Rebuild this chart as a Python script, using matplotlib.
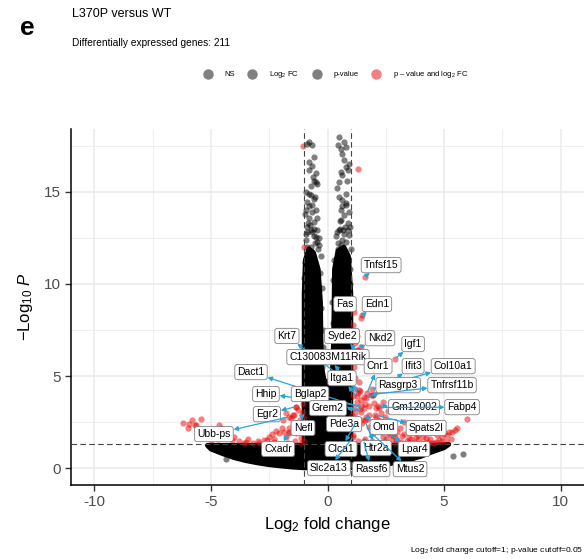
import matplotlib
matplotlib.use("Agg")
import matplotlib.pyplot as plt
from matplotlib.lines import Line2D

plt.rcParams['font.family'] = ['Liberation Sans', 'DejaVu Sans']
plt.rcParams['mathtext.fontset'] = 'custom'
plt.rcParams['mathtext.rm'] = 'Liberation Sans'
plt.rcParams['mathtext.it'] = 'Liberation Sans:italic'
plt.rcParams['axes.unicode_minus'] = False

# --- data (log2 FC, -log10 P) ---

# dense, overplotted body of non-significant genes (outline of the point mass)
mass_x = [-5.15, -4.5, -3.5, -2.5, -1.5, -1.0, -1.0, -0.95, -0.8, -0.6, -0.4, -0.3, -0.28,
          -0.25, -0.15, 0.05, 0.2, 0.25, 0.28, 0.3, 0.45, 0.7, 0.9, 1.0, 1.0, 1.5, 2.5, 3.5,
          4.5, 5.2, 5.0, 4.5, 4.0, 3.5, 3.0, 2.5, 2.0, 1.5, 1.0, 0.5, 0.0, -0.5, -1.0, -1.5,
          -2.0, -2.5, -3.0, -3.5, -4.0, -4.5, -5.0]
mass_y = [1.25, 1.25, 1.25, 1.25, 1.25, 1.25, 9.5, 11.3, 11.9, 11.7, 10.8, 9.0, 7.0,
          5.5, 4.8, 4.6, 5.0, 6.5, 8.5, 10.8, 11.8, 12.0, 11.5, 9.5, 1.25, 1.25, 1.25, 1.25,
          1.25, 1.3, 1.12, 0.9, 0.65, 0.47, 0.33, 0.22, 0.13, 0.07, 0.03, 0.01, 0.0, 0.01,
          0.03, 0.07, 0.13, 0.2, 0.3, 0.42, 0.58, 0.8, 1.05]

# sparse non-significant points (column tops, ragged edges and outliers)
ns_x = [-0.78, -0.67, -0.86, -0.57, -0.78, -0.67, -0.78, -0.5, -0.57, -0.5, -0.43, -0.93,
        -0.78, -0.57, -0.86, -0.67, -0.93, -0.5, -0.43, -0.78, -0.57, -0.86, -0.67, -0.93,
        -0.5, -0.93, -0.7, -0.45, -0.85, -0.6, -0.38, -0.95, -0.72,
        -1.02, -0.98, -1.0, -0.97, -0.22, -0.2, -0.25, -0.3, -0.18,
        -0.9, -0.75, -0.6, -0.45, -0.35, -0.65, -0.8, -0.55, -0.72, -0.62,
        -0.33, -0.28, -0.4, -0.88, -0.96, -0.52, -0.7, -0.82,
        0.5, 0.71, 0.47, 0.81, 0.64, 0.71, 0.93, 0.79, 0.57, 0.64, 0.9, 0.5, 0.64, 0.79,
        0.57, 0.71, 0.93, 0.57, 0.86, 0.5, 0.71, 0.93, 0.64, 0.43, 0.35, 0.97, 0.8, 0.55,
        0.4, 0.68,
        0.2, 0.22, 0.25, 0.18, 1.0, 1.02, 0.98, 1.0,
        0.4, 0.55, 0.75, 0.9, 0.62, 0.8, 0.48, 0.85, 0.6,
        0.3, 0.36, 0.27, 0.95, 0.6, 0.78, 0.45,
        -4.35, -3.87, 5.4, 5.8]
ns_y = [17.7, 17.52, 17.58, 16.9, 16.6, 16.4, 16.17, 16.0, 15.6, 15.5, 15.4, 15.0, 14.9,
        14.6, 14.45, 14.27, 14.0, 14.0, 13.6, 13.55, 13.37, 13.1, 12.8, 12.7, 12.55, 12.4,
        12.9, 12.3, 13.3, 12.6, 12.1, 13.8, 14.8,
        6.5, 8.2, 10.3, 11.2, 5.5, 7.5, 9.8, 11.5, 6.6,
        12.8, 13.2, 13.0, 12.9, 12.5, 13.9, 14.2, 14.7, 15.3, 15.8,
        10.6, 8.7, 11.9, 12.0, 9.1, 12.2, 12.0, 11.6,
        17.97, 17.7, 17.52, 17.43, 17.07, 16.7, 16.5, 16.35, 16.08, 15.9, 16.17, 14.7,
        14.55, 14.27, 14.0, 13.73, 13.9, 13.46, 13.28, 12.9, 12.7, 12.65, 12.4, 12.2,
        12.6, 13.1, 14.4, 13.0, 15.2, 12.9,
        5.8, 7.9, 10.2, 9.0, 6.0, 8.8, 10.8, 11.9,
        12.8, 13.4, 13.1, 12.9, 14.2, 14.9, 15.5, 15.6, 17.3,
        11.3, 9.6, 7.2, 10.0, 12.1, 12.3, 11.9,
        0.5, 1.0, 0.67, 0.77]

# significant (p-value and log2 FC) points without labels
sig_x = [-1.05, 1.3, -1.0, -6.2, -5.93, -5.42, -5.7, -5.28, -5.15, -5.0, -4.85, -4.64, -4.57,
         -4.3, -4.08, -2.93, -2.71, -2.5, -2.28, -2.07, -1.85, -1.78, -1.64, -1.28, -1.35,
         -1.07, -1.14, -1.02, -1.35, -1.5, -1.07, -1.02, -1.43, -1.28, -1.78, -1.57, -1.93,
         -1.64, -5.64, -4.93, -3.5, -3.2, -3.8,
         -1.05, -1.1, -1.2, -1.05, -2.3, -2.6, -3.0, -3.4, -3.6, -4.0, -4.4, -4.7, -5.5,
         -5.8, -6.0, -1.2, -1.5, -1.9, -2.2, -2.4, -1.15, -1.4, -1.7,
         5.57, 5.35, 5.14, 4.92, 4.78, 4.64, 4.5, 6.0, 4.21, 3.78, 3.5, 3.14, 2.78, 2.36,
         2.29, 1.93, 1.79, 1.5, 2.07, 2.0, 2.07, 1.57, 1.43, 1.36, 1.93, 1.36, 1.29, 1.36,
         1.7, 1.45, 1.2, 1.1, 1.3, 1.6, 1.9, 2.2, 2.5, 1.05, 1.15, 1.25, 2.6, 2.9, 3.2,
         3.4, 3.7, 3.9, 4.0, 4.3, 2.4, 2.7, 3.0, 2.2, 1.8, 2.3, 1.1, 1.45, 1.05, 1.2,
         2.5, 2.8, 3.0, 3.3, 3.6, 3.9, 4.1, 4.4, 4.7, 5.0, 5.2, 5.45, 4.85, 4.55, 5.1, 5.3,
         4.2, 3.5, 2.9, 3.1, 2.6, 2.45, 2.0, 1.8, 1.6, 1.2, 1.05, 1.1, 1.1, 1.2, 1.05, 1.15,
         1.05, 1.2, 1.25, 2.4, 2.6, 3.3]
sig_y = [17.5, 16.25, 12.0, 2.45, 2.4, 2.7, 2.35, 1.98, 1.7, 1.53, 1.9, 2.35, 2.18,
         1.7, 1.53, 1.4, 1.53, 1.71, 1.44, 1.9, 1.98, 1.71, 2.18, 2.35, 1.9,
         2.08, 1.63, 1.5, 3.34, 2.89, 3.07, 2.71, 2.89, 3.16, 2.98, 2.71, 2.17,
         1.98, 2.35, 1.98, 1.45, 1.4, 1.5,
         3.5, 4.3, 3.8, 4.0, 1.6, 1.55, 1.5, 1.6, 1.4, 1.7, 1.9, 1.6, 2.0,
         2.6, 2.2, 2.6, 2.4, 2.6, 2.05, 1.85, 1.4, 1.5, 1.4,
         2.17, 1.98, 1.8, 1.71, 1.53, 1.44, 1.35, 2.67, 1.63, 1.71, 1.63, 1.44, 1.53, 1.71,
         1.98, 1.9, 2.26, 2.44, 2.8, 3.52, 3.25, 3.88, 3.7, 4.24, 3.97, 4.69, 6.41, 6.23,
         2.7, 2.6, 2.2, 1.8, 1.5, 1.6, 1.5, 1.4, 1.45, 2.9, 3.3, 3.6, 1.9, 1.7, 1.75,
         1.5, 1.45, 1.55, 1.4, 1.45, 2.2, 2.3, 2.0, 2.6, 2.9, 3.0, 7.8, 8.15, 5.2, 4.9,
         1.6, 1.8, 1.55, 1.85, 1.6, 1.8, 1.7, 1.6, 1.8, 1.9, 2.0, 2.1, 1.45, 1.38, 1.5, 1.6,
         1.35, 1.35, 1.38, 2.2, 2.4, 2.8, 2.45, 3.4, 3.5, 3.0, 2.3, 2.6, 3.9, 4.3, 4.7, 5.5,
         6.1, 6.8, 7.2, 3.6, 3.1, 2.5]

# labelled genes: point position and label position
genes = ['Tnfsf15', 'Fas', 'Edn1', 'Krt7', 'Syde2', 'Nkd2', 'Igf1', 'C130083M11Rik',
         'Cnr1', 'Ifit3', 'Col10a1', 'Dact1', 'Itga1', 'Rasgrp3', 'Tnfrsf11b', 'Hhip',
         'Bglap2', 'Grem2', 'Gm12002', 'Fabp4', 'Egr2', 'Nefl', 'Pde3a', 'Omd', 'Spats2l',
         'Ubb-ps', 'Cxadr', 'Clca1', 'Htr2a', 'Lpar4', 'Slc2a13', 'Rassf6', 'Mtus2']
gene_fc = [1.6, 1.15, 1.5, 1.4, 1.25, 1.45, 2.9, 1.3, 1.7, 1.95, 1.9, 1.55, 1.25, 1.65,
           1.85, 1.45, 1.45, 1.4, 2.15, 2.2, -1.35, -1.1, 1.3, 1.65, 2.05, -1.66, -1.65,
           1.2, 1.6, 2.7, 1.1, 1.55, 1.9]
gene_p = [10.4, 8.5, 8.3, 4.2, 6.4, 6.6, 5.95, 4.1, 4.1, 4.0, 4.3, 3.26, 3.9, 3.8, 4.0,
          3.4, 3.07, 3.2, 3.4, 3.3, 3.35, 2.9, 2.3, 2.8, 2.9, 2.79, 1.9, 2.45, 2.6, 1.8,
          1.7, 1.5, 1.9]
label_x = [2.30, 0.75, 2.12, -1.74, 0.62, 2.25, 3.67, 0.02, 2.17, 3.67, 5.39, -3.28, 0.62,
           3.03, 5.34, -2.64, -0.75, 0.02, 3.71, 5.77, -2.60, -1.05, 0.71, 2.42, 4.23,
           -4.87, -2.12, 0.58, 2.08, 3.71, 0.06, 1.87, 3.54]
label_y = [11.02, 8.91, 8.91, 7.18, 7.18, 7.06, 6.74, 6.03, 5.54, 5.54, 5.54, 5.22, 4.89,
           4.51, 4.51, 4.03, 4.03, 3.27, 3.32, 3.32, 2.94, 2.19, 2.40, 2.24, 2.19, 1.86,
           1.05, 1.05, 1.10, 1.05, 0.02, -0.04, -0.04]

fc_cutoff = 1.0
p_cutoff_log = 1.30103  # -log10(0.05)

# --- figure ---
fig = plt.figure(figsize=(5.84, 5.59), dpi=100)
ax = fig.add_axes([71 / 584, 1 - 485 / 559, 513 / 584, 356 / 559])

ax.fill(mass_x, mass_y, color='black', lw=3.5, joinstyle='round', zorder=2)
ax.scatter(ns_x, ns_y, s=20, color='black', alpha=0.5, lw=0, zorder=3)
ax.scatter(sig_x, sig_y, s=20, color='#EE0000', alpha=0.5, lw=0, zorder=3)
ax.scatter(gene_fc, gene_p, s=20, color='#EE0000', alpha=0.5, lw=0, zorder=3)

ax.axvline(-fc_cutoff, color='#444444', lw=0.8, ls=(0, (5, 3)), zorder=4)
ax.axvline(fc_cutoff, color='#444444', lw=0.8, ls=(0, (5, 3)), zorder=4)
ax.axhline(p_cutoff_log, color='#444444', lw=0.8, ls=(0, (5, 3)), zorder=4)

for g, px, py, lx, ly in zip(genes, gene_fc, gene_p, label_x, label_y):
    ax.annotate(g, xy=(px, py), xytext=(lx, ly), ha='center', va='center',
                fontsize=7.5, color='black', zorder=6,
                bbox=dict(boxstyle='round,pad=0.25,rounding_size=0.25', fc='white',
                          ec='#808080', lw=0.6),
                arrowprops=dict(arrowstyle='<|-,head_length=0.35,head_width=0.18',
                                color='#2aa3d8', lw=0.9, shrinkA=0, shrinkB=1))

ax.set_xlim(-11, 11)
ax.set_ylim(-0.9, 18.4)
ax.set_xticks([-10, -5, 0, 5, 10])
ax.set_yticks([0, 5, 10, 15])
ax.set_xticks([-7.5, -2.5, 2.5, 7.5], minor=True)
ax.set_yticks([2.5, 7.5, 12.5, 17.5], minor=True)
ax.grid(which='major', color='#ebebeb', lw=1.1, zorder=0)
ax.grid(which='minor', color='#ebebeb', lw=0.55, zorder=0)
ax.set_axisbelow(True)
ax.tick_params(which='major', direction='out', length=4, width=1, color='#333333',
               labelsize=11, labelcolor='#4d4d4d')
ax.tick_params(which='minor', length=0)
for side in ['top', 'right']:
    ax.spines[side].set_visible(False)
for side in ['left', 'bottom']:
    ax.spines[side].set_linewidth(1.1)
    ax.spines[side].set_color('black')

ax.set_xlabel('Log$_2$ fold change', fontsize=12, labelpad=4)
ax.set_ylabel('$-$Log$_{10}$ $P$', fontsize=12, labelpad=6)

# titles
fig.text(20 / 584, 1 - 28 / 559, 'e', fontsize=19, fontweight='bold', ha='left', va='center')
fig.text(72 / 584, 1 - 14 / 559, 'L370P versus WT', fontsize=9, ha='left', va='center')
fig.text(72 / 584, 1 - 43 / 559, 'Differentially expressed genes: 211', fontsize=7.3,
         ha='left', va='center')

# legend
leg_labels = ['NS', 'Log$_2$ FC', 'p-value', 'p \u2013 value and log$_2$ FC']
leg_colors = ['#808080', '#808080', '#808080', '#F28080']
handles = [Line2D([], [], ls='none', marker='o', ms=7.5, mfc=c, mec='none')
           for c in leg_colors]
fig.legend(handles, leg_labels, loc='center', bbox_to_anchor=(336 / 584, 1 - 75 / 559),
           ncol=4, frameon=False, fontsize=5.5, handletextpad=1.7, columnspacing=1.8,
           handlelength=1.0)

fig.text(583 / 584, 1 - 550 / 559, 'Log$_2$ fold change cutoff=1; p-value cutoff=0.05',
         fontsize=6, ha='right', va='center')

fig.savefig('out.png', dpi=100)
